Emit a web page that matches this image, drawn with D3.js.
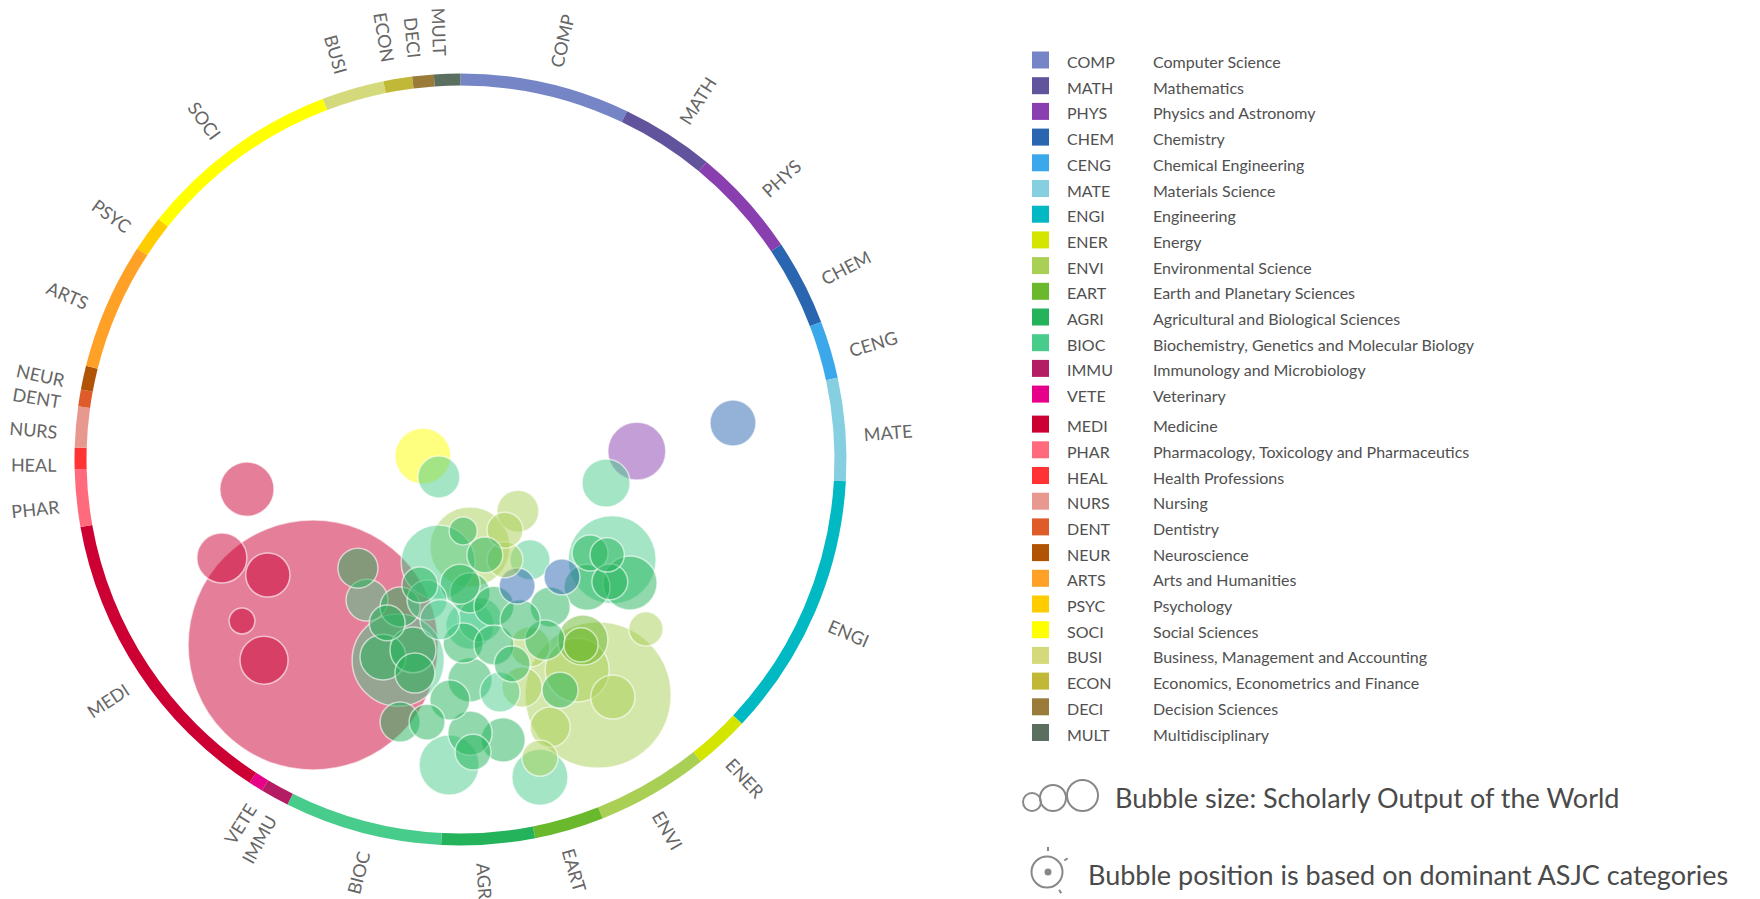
<!DOCTYPE html>
<html>
<head>
<meta charset="utf-8">
<script src="https://cdn.jsdelivr.net/npm/d3@7"></script>
<style>
  body { margin: 0; background: #fff; }
  svg { display: block; font-family: Lato, 'Open Sans', sans-serif; }
</style>
</head>
<body>
<svg id="chart" width="1760" height="899"></svg>
<script>
// ASJC subject areas, in ring order
const codes = ['COMP', 'MATH', 'PHYS', 'CHEM', 'CENG', 'MATE', 'ENGI', 'ENER', 'ENVI', 'EART',
  'AGRI', 'BIOC', 'IMMU', 'VETE', 'MEDI', 'PHAR', 'HEAL', 'NURS', 'DENT', 'NEUR',
  'ARTS', 'PSYC', 'SOCI', 'BUSI', 'ECON', 'DECI', 'MULT'];

const names = ['Computer Science', 'Mathematics', 'Physics and Astronomy', 'Chemistry',
  'Chemical Engineering', 'Materials Science', 'Engineering', 'Energy', 'Environmental Science',
  'Earth and Planetary Sciences', 'Agricultural and Biological Sciences',
  'Biochemistry, Genetics and Molecular Biology', 'Immunology and Microbiology', 'Veterinary',
  'Medicine', 'Pharmacology, Toxicology and Pharmaceutics', 'Health Professions', 'Nursing',
  'Dentistry', 'Neuroscience', 'Arts and Humanities', 'Psychology', 'Social Sciences',
  'Business, Management and Accounting', 'Economics, Econometrics and Finance',
  'Decision Sciences', 'Multidisciplinary'];

const colors = ['#7585c6', '#62539d', '#8a3fb0', '#2a65b0', '#3ba8ec', '#86cfe0', '#00b9c3',
  '#d4e600', '#a9cf55', '#6ab82b', '#24b35a', '#47cc8b', '#b41d63', '#e6008a', '#cc0033',
  '#ff6b7c', '#ff3333', '#e8998f', '#df5b2a', '#b15304', '#ffa126', '#ffcc00', '#ffff00',
  '#d4d97c', '#c2b837', '#9a7b3a', '#5a6f60'];

// share of world output per area (%), sets the ring segments
const share = [7.1, 3.9, 4.6, 3.6, 2.4, 4.3, 11.1, 2.3, 4.7, 2.9,
  3.9, 6.6, 1.2, 0.6, 13.0, 2.4, 0.9, 1.7, 0.7, 1.0,
  5.3, 1.5, 8.5, 2.6, 1.2, 0.9, 1.1];

// bubbles: [dominant area, x, y (position inside the ring, -1..1), scholarly output (thousands)]
const bubbles = [
  ['MEDI', -0.388, 0.488, 1600],
  ['ENVI', 0.362, 0.620, 546],
  ['BIOC', -0.164, 0.528, 217],
  ['BIOC', 0.399, 0.264, 198],
  ['ENVI', 0.025, 0.230, 164],
  ['BIOC', -0.059, 0.270, 140],
  ['ENVI', 0.307, 0.554, 105],
  ['BIOC', -0.030, 0.804, 92],
  ['PHYS', 0.464, -0.022, 86],
  ['SOCI', -0.099, -0.009, 80],
  ['BIOC', 0.209, 0.836, 80],
  ['MEDI', -0.562, 0.078, 75],
  ['AGRI', 0.446, 0.325, 75],
  ['MEDI', -0.628, 0.259, 64],
  ['EART', 0.322, 0.475, 64],
  ['BIOC', 0.383, 0.062, 59],
  ['MEDI', -0.517, 0.528, 59],
  ['BIOC', 0.025, 0.436, 59],
  ['CHEM', 0.717, -0.096, 54],
  ['AGRI', 0.333, 0.336, 54],
  ['AGRI', -0.204, 0.520, 54],
  ['AGRI', -0.125, 0.501, 54],
  ['MEDI', -0.507, 0.304, 50],
  ['AGRI', 0.112, 0.738, 50],
  ['ENVI', 0.401, 0.625, 50],
  ['AGRI', 0.025, 0.720, 50],
  ['BIOC', 0.051, 0.422, 50],
  ['AGRI', 0.025, 0.580, 50],
  ['BIOC', -0.057, 0.046, 45],
  ['ENVI', 0.151, 0.136, 45],
  ['BIOC', -0.246, 0.370, 45],
  ['AGRI', -0.270, 0.286, 41],
  ['AGRI', -0.159, 0.388, 41],
  ['AGRI', 0.007, 0.483, 41],
  ['AGRI', -0.159, 0.691, 41],
  ['AGRI', 0.025, 0.351, 41],
  ['AGRI', 0.236, 0.388, 41],
  ['ENVI', 0.183, 0.493, 41],
  ['ENVI', 0.162, 0.599, 41],
  ['ENVI', 0.236, 0.704, 41],
  ['AGRI', -0.001, 0.328, 41],
  ['AGRI', 0.088, 0.386, 41],
  ['AGRI', 0.088, 0.488, 41],
  ['AGRI', -0.120, 0.562, 41],
  ['BIOC', -0.088, 0.370, 41],
  ['BIOC', 0.104, 0.612, 41],
  ['AGRI', -0.028, 0.633, 41],
  ['BIOC', -0.054, 0.422, 41],
  ['BIOC', 0.183, 0.264, 41],
  ['AGRI', 0.222, 0.475, 41],
  ['AGRI', 0.157, 0.422, 41],
  ['AGRI', -0.088, 0.691, 33],
  ['AGRI', -0.193, 0.430, 33],
  ['AGRI', 0.033, 0.770, 33],
  ['ENVI', 0.209, 0.786, 33],
  ['AGRI', 0.341, 0.246, 33],
  ['AGRI', 0.393, 0.322, 33],
  ['CHEM', 0.267, 0.309, 33],
  ['CHEM', 0.149, 0.333, 33],
  ['ENVI', 0.117, 0.264, 33],
  ['ENVI', 0.117, 0.186, 33],
  ['AGRI', 0.136, 0.538, 33],
  ['AGRI', 0.064, 0.251, 33],
  ['AGRI', -0.107, 0.330, 33],
  ['AGRI', 0.262, 0.607, 33],
  ['AGRI', 0.386, 0.251, 30],
  ['ENVI', 0.488, 0.446, 30],
  ['EART', 0.317, 0.488, 30],
  ['AGRI', 0.007, 0.188, 20],
  ['MEDI', -0.575, 0.425, 17],
];

const svg = d3.select('#chart');
const cx = 460.5, cy = 459.5;
const ringR = 380;

const color = d3.scaleOrdinal(codes, colors);
const x = d3.scaleLinear([-1, 1], [cx - ringR, cx + ringR]);
const y = d3.scaleLinear([-1, 1], [cy - ringR, cy + ringR]);
const size = d3.scaleSqrt([0, 1600], [0, 125]);

// ring of subject areas
const pie = d3.pie().sort(null).value((d) => d.share);
const arcs = pie(codes.map((c, i) => ({ code: c, share: share[i] })));
const arc = d3.arc().innerRadius(374).outerRadius(386);

const ring = svg.append('g').attr('transform', `translate(${cx},${cy})`);
ring.selectAll('path')
  .data(arcs)
  .join('path')
  .attr('d', arc)
  .attr('fill', (d) => color(d.data.code));

ring.selectAll('text')
  .data(arcs)
  .join('text')
  .attr('transform', (d) => {
    const a = ((d.startAngle + d.endAngle) / 2) * 180 / Math.PI;
    return `rotate(${a - 90}) translate(404,0)` + (a > 180 ? ' rotate(180)' : '');
  })
  .attr('text-anchor', (d) => ((d.startAngle + d.endAngle) / 2 > Math.PI ? 'end' : 'start'))
  .attr('dy', '0.75em')
  .attr('font-size', 18)
  .attr('fill', '#666')
  .text((d) => d.data.code);

// bubbles
svg.append('g')
  .selectAll('circle')
  .data(bubbles)
  .join('circle')
  .attr('cx', (d) => x(d[1]))
  .attr('cy', (d) => y(d[2]))
  .attr('r', (d) => size(d[3]))
  .attr('fill', (d) => color(d[0]))
  .attr('fill-opacity', 0.5)
  .attr('stroke', '#fff')
  .attr('stroke-opacity', 0.6)
  .attr('stroke-width', 1.5);

// legend
const legendY = (i) => 60 + i * 25.7 + (i >= 14 ? 4.3 : 0);
const legend = svg.append('g')
  .selectAll('g')
  .data(codes)
  .join('g')
  .attr('transform', (d, i) => `translate(1032,${legendY(i)})`);

legend.append('rect')
  .attr('y', -8.5)
  .attr('width', 17)
  .attr('height', 17)
  .attr('fill', (d) => color(d));

legend.append('text')
  .attr('x', 35)
  .attr('y', 8)
  .attr('font-size', 16)
  .attr('fill', '#505050')
  .text((d) => d);

legend.append('text')
  .attr('x', 121)
  .attr('y', 8)
  .attr('font-size', 16)
  .attr('fill', '#505050')
  .text((d, i) => names[i]);

// notes
const notes = svg.append('g').attr('fill', 'none').attr('stroke', '#888').attr('stroke-width', 2);
[[1032, 9], [1053, 13], [1082.5, 15.5]].forEach(([nx, nr]) => {
  notes.append('circle').attr('cx', nx).attr('cy', 811 - nr).attr('r', nr);
});
notes.append('circle').attr('cx', 1047).attr('cy', 872).attr('r', 15.5);
notes.append('circle').attr('cx', 1048).attr('cy', 872).attr('r', 3.5).attr('fill', '#888').attr('stroke', 'none');
[[0, 23], [55, 22], [148, 23]].forEach(([a, d]) => {
  const t = a * Math.PI / 180;
  const px = 1048 + d * Math.sin(t), py = 872 - d * Math.cos(t);
  notes.append('line')
    .attr('x1', px - 2 * Math.sin(t)).attr('y1', py + 2 * Math.cos(t))
    .attr('x2', px + 2 * Math.sin(t)).attr('y2', py - 2 * Math.cos(t));
});

svg.append('text')
  .attr('x', 1115).attr('y', 808)
  .attr('font-size', 27).attr('fill', '#4a4a4a')
  .text('Bubble size: Scholarly Output of the World');
svg.append('text')
  .attr('x', 1088).attr('y', 885)
  .attr('font-size', 27).attr('fill', '#4a4a4a')
  .text('Bubble position is based on dominant ASJC categories');
</script>
</body>
</html>
